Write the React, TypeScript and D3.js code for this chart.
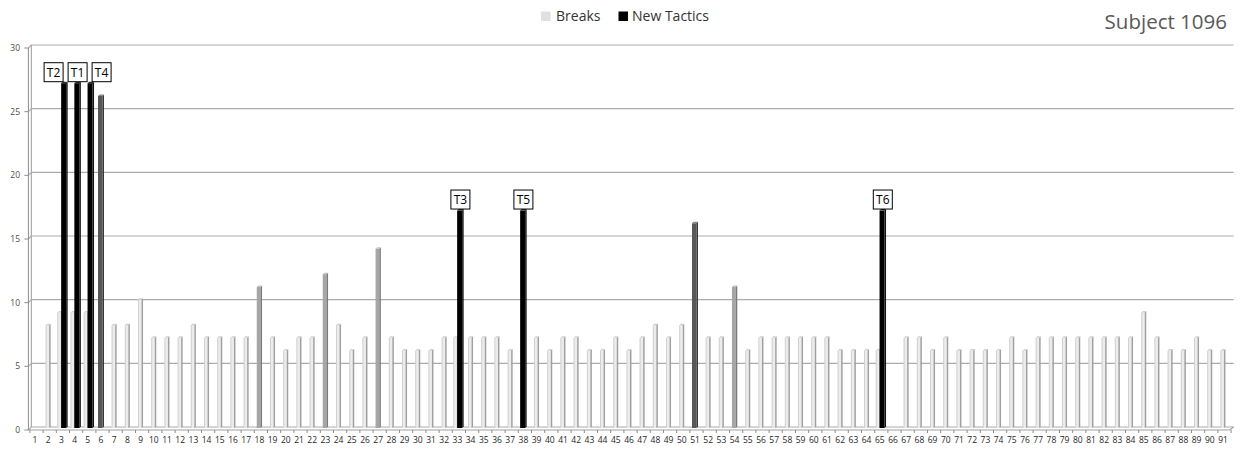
import React from "react";
import * as d3 from "d3";

const categories: number[] = d3.range(1, 92);

const breaks: number[] = [
  0, 8, 9, 9, 9, 26, 8, 8, 10, 7,
  7, 7, 8, 7, 7, 7, 7, 11, 7, 6,
  7, 7, 12, 8, 6, 7, 14, 7, 6, 6,
  6, 7, 7, 7, 7, 7, 6, 0, 7, 6,
  7, 7, 6, 6, 7, 6, 7, 8, 7, 8,
  16, 7, 7, 11, 6, 7, 7, 7, 7, 7,
  7, 6, 6, 6, 6, 0, 7, 7, 6, 7,
  6, 6, 6, 6, 7, 6, 7, 7, 7, 7,
  7, 7, 7, 7, 9, 7, 6, 6, 7, 6,
  6,
];

// categories whose break bar is drawn in a darker shade
const mediumShadeCats: number[] = [18, 23, 27, 54];
const darkShadeCats: number[] = [6, 51];

const tacticCats: number[] = [3, 4, 5, 33, 38, 65];
const tacticValues: number[] = [27, 27, 27, 17, 17, 17];
const tacticLabels: string[] = ["T2", "T1", "T4", "T3", "T5", "T6"];

const yTicks: number[] = [0, 5, 10, 15, 20, 25, 30];

const seriesNames: string[] = ["Breaks", "New Tactics"];
const title = "Subject 1096";

const W = 1242;
const H = 449;
const D = 3; // 3D depth offset
const FONT = "'Open Sans', 'DejaVu Sans', sans-serif";

function Bar3D({ x, w, yTop, yBase, front, side, top, edge }: any) {
  const d = 1.5;
  return (
    <g>
      <rect x={x} y={yTop} width={w} height={Math.max(0, yBase - yTop)} fill={front} />
      {edge ? (
        <line x1={x + 0.35} x2={x + 0.35} y1={yTop} y2={yBase} stroke={edge} strokeWidth={0.7} />
      ) : null}
      <polygon
        points={`${x + w},${yTop} ${x + w + d},${yTop - d} ${x + w + d},${yBase - d} ${x + w},${yBase}`}
        fill={side}
      />
      <polygon
        points={`${x},${yTop} ${x + w},${yTop} ${x + w + d},${yTop - d} ${x + d},${yTop - d}`}
        fill={top}
      />
    </g>
  );
}

export default function App() {
  React.useEffect(() => {
    document.body.style.margin = "0";
  }, []);

  const xLeft = 28.4;
  const xRight = 1229.6;
  const x = d3.scaleBand<number>().domain(categories).range([xLeft, xRight]).padding(0);
  const y = d3.scaleLinear().domain([0, 30]).range([427, 45]);
  const cx = (c: number) => (x(c) as number) + x.bandwidth() / 2;

  const tacticMap = new Map<number, number>();
  tacticCats.forEach((c, i) => tacticMap.set(c, tacticValues[i]));

  const y0 = y(0);

  const breakBars = categories.map((c, i) => {
    const v = breaks[i];
    if (!v) return null;
    const both = tacticMap.has(c);
    const center = cx(c) + (both ? -1.5 : 0);
    let front = "#ececec", side = "#a0a0a0", top = "#d0d0d0", edge: string | null = "#c4c4c4";
    if (mediumShadeCats.includes(c)) { front = "#a6a6a6"; side = "#7a7a7a"; top = "#c4c4c4"; edge = null; }
    if (darkShadeCats.includes(c)) { front = "#585858"; side = "#3a3a3a"; top = "#8a8a8a"; edge = null; }
    const wFront = darkShadeCats.includes(c) ? 4.5 : mediumShadeCats.includes(c) ? 3.8 : 3.4;
    return (
      <Bar3D key={"b" + c} x={center - (wFront + 1.5) / 2} w={wFront} yTop={y(v)} yBase={y0 + 1}
        front={front} side={side} top={top} edge={edge} />
    );
  });

  const tacticBars = tacticCats.map((c, i) => {
    const v = tacticValues[i];
    const hasBreak = breaks[c - 1] > 0;
    const center = cx(c) + (hasBreak ? 3 : 0);
    const wFront = 5;
    return (
      <Bar3D key={"t" + c} x={center - (wFront + 1.5) / 2} w={wFront} yTop={y(v)} yBase={y0 + 1}
        front="#000000" side="#141414" top="#2e2e2e" edge={null} />
    );
  });

  const boxW = 19, boxH = 19, minGap = 24;
  const labelItems = tacticCats.map((c, i) => {
    const hasBreak = breaks[c - 1] > 0;
    return { c, label: tacticLabels[i], bx: cx(c) + (hasBreak ? 3 : 0), v: tacticValues[i], lx: 0 };
  }).sort((a, b) => a.bx - b.bx);
  const clusters: any[][] = [];
  labelItems.forEach((it) => {
    const last = clusters[clusters.length - 1];
    if (last && it.bx - last[last.length - 1].bx < minGap) last.push(it);
    else clusters.push([it]);
  });
  clusters.forEach((cl) => {
    const mean = d3.mean(cl, (d: any) => d.bx) as number;
    const n = cl.length;
    cl.forEach((it: any, k: number) => { it.lx = mean + (k - (n - 1) / 2) * minGap; });
  });

  const gridColor = "#ababab";

  return (
    <div style={{ position: "absolute", left: 0, top: 0 }}>
      <svg width={W} height={H} style={{ display: "block", background: "#ffffff" }}>
        {yTicks.map((t) => (
          <g key={"g" + t}>
            <line x1={xLeft + D} x2={xRight + D + 1} y1={y(t)} y2={y(t)} stroke={gridColor} strokeWidth={1.2} />
            <line x1={xLeft} y1={y(t) + D} x2={xLeft + D} y2={y(t)} stroke={gridColor} strokeWidth={1.2} />
            <line x1={xLeft - 4} x2={xLeft} y1={y(t) + D} y2={y(t) + D} stroke="#8c8c8c" strokeWidth={1} />
            <text x={20} y={y(t) + D} dy="0.35em" textAnchor="end" fontFamily={FONT} fontSize={8.5} fill="#4d4d4d">
              {t}
            </text>
          </g>
        ))}
        <line x1={xLeft + D} x2={xLeft + D} y1={y(30)} y2={y0} stroke={gridColor} strokeWidth={1.2} />
        <line x1={xLeft} x2={xLeft} y1={y(30) + D} y2={y0 + D} stroke="#8c8c8c" strokeWidth={1} />
        <line x1={xLeft} x2={xRight} y1={y0 + D} y2={y0 + D} stroke="#a0a0a0" strokeWidth={1.2} />
        <line x1={xRight} y1={y0 + D} x2={xRight + D + 1} y2={y0} stroke="#a0a0a0" strokeWidth={1.2} />
        {categories.map((c) => (
          <line key={"xt" + c} x1={(x(c) as number) + 1.5} x2={(x(c) as number) + 1.5} y1={y0 + D} y2={y0 + D + 3}
            stroke="#8c8c8c" strokeWidth={1} />
        ))}
        <line x1={xRight + 1.5} x2={xRight + 1.5} y1={y0 + D} y2={y0 + D + 3} stroke="#8c8c8c" strokeWidth={1} />

        {breakBars}
        {tacticBars}

        {categories.map((c) => (
          <text key={"xl" + c} x={cx(c)} y={442.5} textAnchor="middle" fontFamily={FONT} fontSize={8.5} fill="#262626">
            {c}
          </text>
        ))}

        {labelItems.map((it: any) => {
          const bottom = y(it.v) - 1.5;
          return (
            <g key={"lab" + it.c}>
              <rect x={it.lx - boxW / 2} y={bottom - boxH} width={boxW} height={boxH} fill="#ffffff"
                stroke="#000000" strokeWidth={1} />
              <text x={it.lx} y={bottom - boxH / 2} dy="0.36em" textAnchor="middle" fontFamily={FONT}
                fontSize={12} fill="#000000">
                {it.label}
              </text>
            </g>
          );
        })}

        <g fontFamily={FONT} fontSize={14} fill="#333333">
          <rect x={541} y={11.5} width={9.5} height={9.5} fill="#e0e0e0" />
          <text x={556} y={21}>{seriesNames[0]}</text>
          <rect x={618.5} y={11.5} width={9.5} height={9.5} fill="#000000" />
          <text x={632} y={21}>{seriesNames[1]}</text>
        </g>

        <text x={1227} y={28.5} textAnchor="end" fontFamily={FONT} fontSize={20.5} fill="#595959">
          {title}
        </text>
      </svg>
    </div>
  );
}
